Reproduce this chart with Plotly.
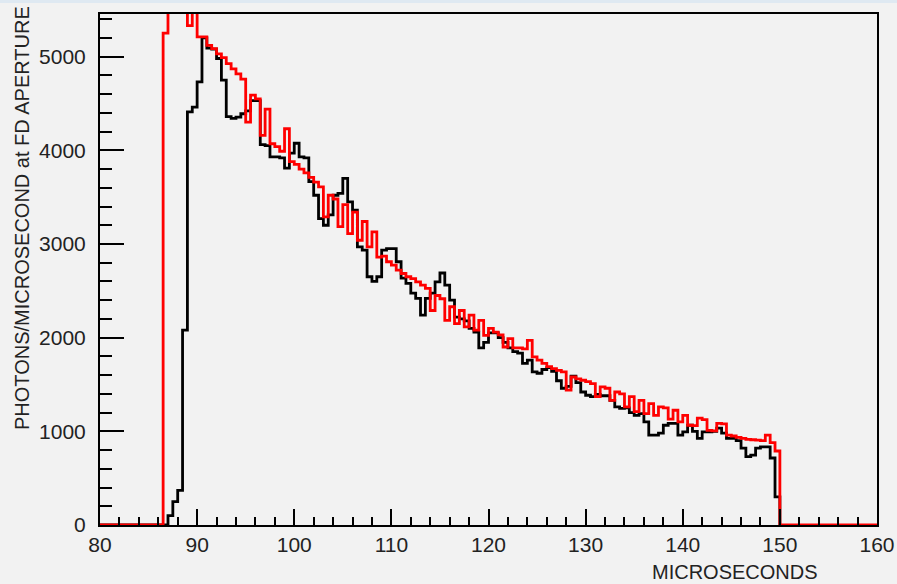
import plotly.graph_objects as go

# ---------------- data ----------------
bin_width = 0.5  # microseconds
x_min, x_max = 80, 160

# red histogram (simulation), first non-empty bin starts at 86.5 us
red_start = 86.5
red_values = [
    5250, 5600, 5600, 5600, 5600, 5330, 5600, 5210, 5210, 5120,
    5085, 5030, 4990, 4925, 4870, 4815, 4760, 4300, 4590, 4550,
    4160, 4440, 4070, 4040, 3990, 4230, 3880, 3850, 3800, 3760,
    3710, 3660, 3610, 3290, 3520, 3480, 3185, 3420, 3110, 3340,
    3040, 3240, 2970, 3130, 2860, 2870, 2810, 2775, 2720, 2685,
    2650, 2630, 2595, 2560, 2525, 2290, 2450, 2415, 2185, 2330,
    2150, 2290, 2115, 2240, 2080, 2185, 2025, 2100, 2060, 2030,
    1900, 1990, 1890, 1890, 1880, 1970, 1795, 1760, 1725, 1690,
    1670, 1650, 1635, 1440, 1580, 1560, 1545, 1530, 1510, 1370,
    1475, 1460, 1330, 1420, 1400, 1260, 1370, 1210, 1330, 1190,
    1295, 1170, 1260, 1250, 1130, 1225, 1100, 1170, 1065, 1060,
    1140, 1125, 1010, 1005, 1085, 1080, 960, 950, 935, 925,
    915, 910, 905, 900, 960, 880, 790,
]

# black histogram (measured), first non-empty bin starts at 87.0 us
black_start = 87.0
black_values = [
    100, 250, 370, 2080, 4410, 4460, 4730, 5200, 5090, 5080,
    4980, 4750, 4360, 4340, 4355, 4390, 4420, 4530, 4530, 4060,
    4050, 3930, 3930, 3920, 3810, 3970, 4075, 3930, 3920, 3665,
    3520, 3270, 3200, 3310, 3520, 3540, 3700, 3450, 3360, 2970,
    2935, 2650, 2600, 2650, 2935, 2950, 2950, 2810, 2635, 2580,
    2475, 2420, 2240, 2420, 2475, 2595, 2690, 2560, 2400, 2220,
    2200, 2180, 2100, 2060, 1890, 1950, 2050, 2050, 2000, 1950,
    1890, 1850, 1835, 1725, 1760, 1635, 1620, 1660, 1680, 1640,
    1540, 1460, 1480, 1590, 1520, 1420, 1385, 1370, 1395, 1380,
    1380, 1330, 1260, 1245, 1250, 1200, 1170, 1190, 1100, 960,
    960, 980, 1065, 1085, 1085, 960, 995, 1065, 1000, 925,
    995, 995, 1000, 1035, 980, 925, 925, 900, 820, 730,
    745, 820, 835, 835, 715, 300,
]

x_ticks = list(range(80, 161, 10))
y_ticks = [0, 1000, 2000, 3000, 4000, 5000]
y_max = 5455


def hist_steps(start, values, close_to=None):
    edges = [start + i * bin_width for i in range(len(values))]
    end = start + len(values) * bin_width
    xs = [x_min] + edges + [end]
    ys = [0] + list(values) + [0]
    if close_to is not None:
        xs.append(close_to)
        ys.append(0)
    return xs, ys


bx, by = hist_steps(black_start, black_values)
rx, ry = hist_steps(red_start, red_values, close_to=x_max)

BG = "#f2f2f2"
FONT = "Liberation Sans"
TXT = "#222222"

fig = go.Figure()
fig.add_trace(go.Scatter(x=bx, y=by, mode="lines", line=dict(color="black", width=2.8, shape="hv"),
                         hoverinfo="skip", showlegend=False))
fig.add_trace(go.Scatter(x=rx, y=ry, mode="lines", line=dict(color="#ff0000", width=2.8, shape="hv"),
                         hoverinfo="skip", showlegend=False))

fig.update_layout(
    width=897, height=584,
    margin=dict(l=100, r=20, t=14, b=59, autoexpand=False),
    paper_bgcolor=BG, plot_bgcolor=BG,
    font=dict(family=FONT, color=TXT),
    showlegend=False,
)

fig.update_xaxes(
    range=[x_min, x_max], tickmode="array", tickvals=x_ticks, ticktext=[str(v) for v in x_ticks],
    ticks="inside", ticklen=16, tickwidth=1.6, tickcolor="black",
    minor=dict(dtick=2, tick0=80, ticks="inside", ticklen=8, tickwidth=1.6, tickcolor="black"),
    showline=True, linecolor="black", linewidth=2, mirror=True,
    showgrid=False, zeroline=False, automargin=False,
    tickfont=dict(family=FONT, size=21, color=TXT),
    ticklabelstandoff=0,
)
fig.update_yaxes(
    range=[0, y_max], tickmode="array", tickvals=y_ticks, ticktext=[str(v) for v in y_ticks],
    ticks="inside", ticklen=24, tickwidth=1.6, tickcolor="black",
    minor=dict(dtick=200, tick0=0, ticks="inside", ticklen=12, tickwidth=1.6, tickcolor="black"),
    showline=True, linecolor="black", linewidth=2, mirror=True,
    showgrid=False, zeroline=False, automargin=False,
    tickfont=dict(family=FONT, size=21, color=TXT),
    ticklabelstandoff=8,
)

fig.add_annotation(
    text="PHOTONS/MICROSECOND at FD APERTURE", textangle=-90,
    xref="paper", yref="paper", x=(22 - 100) / 777, y=(525 - 218) / 511,
    xanchor="center", yanchor="middle", showarrow=False,
    font=dict(family=FONT, size=20, color=TXT),
)
fig.add_annotation(
    text="MICROSECONDS",
    xref="paper", yref="paper", x=(820 - 100) / 777, y=(525 - 572) / 511,
    xanchor="right", yanchor="middle", showarrow=False,
    font=dict(family=FONT, size=20, color=TXT),
)

# light blue strip along the top edge of the canvas (pixel rows 0..3)
fig.add_shape(type="rect", xref="paper", yref="paper",
              x0=-100 / 777, x1=797 / 777, y0=(525 - 3) / 511, y1=(525 + 1) / 511,
              line=dict(width=0), fillcolor="#dfe9f2", layer="below")

fig.write_html(
    "out.html",
    config={"displayModeBar": False},
    post_script="document.body.style.margin='0';document.body.style.background='#f2f2f2';"
                "document.documentElement.style.overflow='hidden';",
)
